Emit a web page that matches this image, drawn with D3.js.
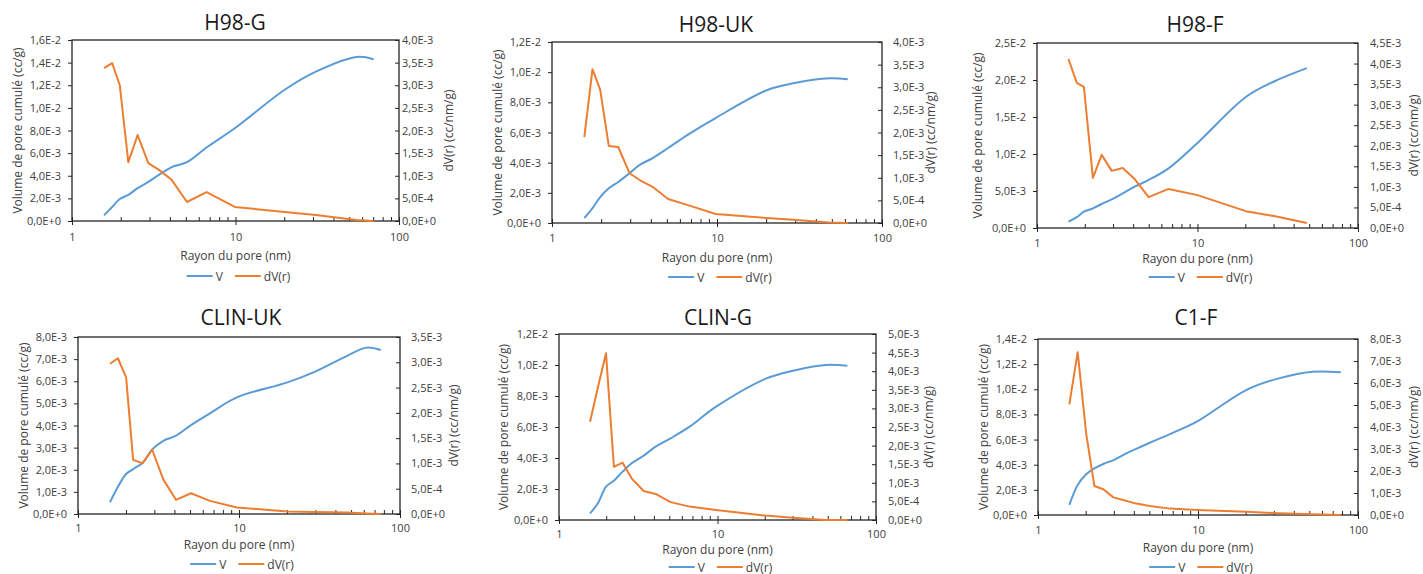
<!DOCTYPE html>
<html><head><meta charset="utf-8">
<script src="https://cdn.jsdelivr.net/npm/d3@7"></script>
<style>body{margin:0;background:#fff;} svg{display:block;}</style>
</head><body>
<svg id="c" width="1423" height="574"></svg>
<script>
// ---------- DATA ----------
const titles = ["H98-G", "H98-UK", "H98-F", "CLIN-UK", "CLIN-G", "C1-F"];
const seriesNames = ["V", "dV(r)"];
const leftTitle = "Volume de pore cumulé (cc/g)";
const rightTitle = "dV(r) (cc/nm/g)";
const xTitle = "Rayon du pore (nm)";
const xTickValues = [1, 10, 100];
const xTickLabels = ["1", "10", "100"];

const r_H98G  = [1.57, 1.76, 1.96, 2.21, 2.52, 2.93, 3.4, 4.07, 5.05, 6.65, 9.9, 20, 31, 55, 70];
const V_H98G  = [0.50e-3, 1.24e-3, 1.94e-3, 2.30e-3, 2.90e-3, 3.45e-3, 4.07e-3, 4.77e-3, 5.20e-3, 6.50e-3, 8.20e-3, 11.6e-3, 13.2e-3, 14.5e-3, 14.3e-3];
const dV_H98G = [3.38e-3, 3.49e-3, 3.00e-3, 1.30e-3, 1.90e-3, 1.28e-3, 1.13e-3, 0.91e-3, 0.42e-3, 0.64e-3, 0.31e-3, 0.20e-3, 0.13e-3, 0.02e-3, 0.0];

const r_H98UK  = [1.57, 1.76, 1.96, 2.21, 2.52, 2.95, 3.4, 4.07, 5.05, 6.6, 9.8, 20, 29, 48, 62];
const V_H98UK  = [0.33e-3, 0.99e-3, 1.72e-3, 2.30e-3, 2.72e-3, 3.30e-3, 3.85e-3, 4.30e-3, 4.97e-3, 5.83e-3, 6.96e-3, 8.80e-3, 9.26e-3, 9.59e-3, 9.53e-3];
const dV_H98UK = [1.90e-3, 3.40e-3, 2.94e-3, 1.70e-3, 1.68e-3, 1.10e-3, 0.95e-3, 0.80e-3, 0.53e-3, 0.40e-3, 0.20e-3, 0.11e-3, 0.07e-3, 0.01e-3, 0.0];

const r_H98F  = [1.57, 1.77, 1.96, 2.23, 2.53, 2.92, 3.42, 4.06, 4.96, 6.6, 10, 20, 30, 48];
const V_H98F  = [0.85e-3, 1.47e-3, 2.20e-3, 2.66e-3, 3.24e-3, 3.87e-3, 4.68e-3, 5.58e-3, 6.49e-3, 8.06e-3, 11.5e-3, 17.7e-3, 19.8e-3, 21.6e-3];
const dV_H98F = [4.11e-3, 3.53e-3, 3.43e-3, 1.22e-3, 1.78e-3, 1.39e-3, 1.46e-3, 1.19e-3, 0.75e-3, 0.95e-3, 0.80e-3, 0.41e-3, 0.29e-3, 0.12e-3];

const r_CLINUK  = [1.58, 1.77, 1.99, 2.2, 2.52, 2.89, 3.39, 4.06, 5.03, 6.6, 9.7, 20, 29, 47, 62, 76];
const V_CLINUK  = [0.53e-3, 1.23e-3, 1.81e-3, 2.03e-3, 2.32e-3, 2.92e-3, 3.31e-3, 3.54e-3, 4.02e-3, 4.55e-3, 5.27e-3, 5.95e-3, 6.40e-3, 7.15e-3, 7.52e-3, 7.41e-3];
const dV_CLINUK = [2.97e-3, 3.08e-3, 2.70e-3, 1.07e-3, 1.00e-3, 1.27e-3, 0.68e-3, 0.28e-3, 0.41e-3, 0.26e-3, 0.13e-3, 0.05e-3, 0.04e-3, 0.03e-3, 0.01e-3, 0.0];

const r_CLING  = [1.57, 1.76, 1.98, 2.22, 2.52, 2.87, 3.42, 4.07, 5.06, 6.67, 9.8, 20, 30, 48, 66];
const V_CLING  = [0.43e-3, 1.08e-3, 2.15e-3, 2.54e-3, 3.12e-3, 3.66e-3, 4.15e-3, 4.73e-3, 5.27e-3, 6.02e-3, 7.31e-3, 9.10e-3, 9.63e-3, 10.0e-3, 9.95e-3];
const dV_CLING = [2.64e-3, 3.57e-3, 4.48e-3, 1.43e-3, 1.54e-3, 1.12e-3, 0.78e-3, 0.70e-3, 0.48e-3, 0.36e-3, 0.27e-3, 0.12e-3, 0.06e-3, 0.0, 0.0];

const r_C1F  = [1.57, 1.77, 2.0, 2.25, 2.56, 2.96, 3.4, 4.04, 5.0, 6.68, 9.9, 20, 32, 52, 78];
const V_C1F  = [0.80e-3, 2.39e-3, 3.24e-3, 3.71e-3, 4.06e-3, 4.37e-3, 4.77e-3, 5.22e-3, 5.75e-3, 6.44e-3, 7.45e-3, 9.94e-3, 10.87e-3, 11.4e-3, 11.35e-3];
const dV_C1F = [5.03e-3, 7.40e-3, 3.71e-3, 1.32e-3, 1.17e-3, 0.80e-3, 0.68e-3, 0.53e-3, 0.41e-3, 0.29e-3, 0.23e-3, 0.15e-3, 0.08e-3, 0.03e-3, 0.0];

const leftMax   = [0.016, 0.012, 0.025, 0.008, 0.012, 0.014];
const leftStep  = [0.002, 0.002, 0.005, 0.001, 0.002, 0.002];
const rightMax  = [0.004, 0.004, 0.0045, 0.0035, 0.005, 0.008];
const rightStep = [0.0005, 0.0005, 0.0005, 0.0005, 0.0005, 0.001];

const radii = [r_H98G, r_H98UK, r_H98F, r_CLINUK, r_CLING, r_C1F];
const vols  = [V_H98G, V_H98UK, V_H98F, V_CLINUK, V_CLING, V_C1F];
const dvols = [dV_H98G, dV_H98UK, dV_H98F, dV_CLINUK, dV_CLING, dV_C1F];

// ---------- LAYOUT ----------
const layout = [
  {L:72,   T:40,  R:399,  B:221, tx:235,  ty:30,  lt:17,  rt:448,  rg:3,  tkY:16, xtY:34, lgY:55},
  {L:552,  T:42,  R:882,  B:223, tx:716,  ty:31.5,lt:497, rt:930,  rg:11, tkY:15, xtY:34, lgY:54},
  {L:1037, T:43,  R:1358, B:228, tx:1195, ty:32,  lt:977, rt:1413, rg:12, tkY:15, xtY:30, lgY:49},
  {L:78,   T:337, R:400,  B:514, tx:241,  ty:325, lt:23,  rt:453,  rg:11, tkY:14, xtY:30, lgY:50},
  {L:559,  T:334, R:876,  B:520, tx:718,  ty:325, lt:503, rt:928,  rg:12, tkY:14, xtY:29, lgY:47},
  {L:1038, T:339, R:1358, B:515, tx:1196, ty:325, lt:983, rt:1413, rg:12, tkY:15, xtY:32, lgY:52}
];

const FONT = "'Open Sans', Lato, sans-serif";
const BLUE = "#5B9BD5", ORANGE = "#ED7D31";
const TXT = "#404040";

function fmt(v) {
  v = +(+v).toPrecision(8);
  if (v === 0) return "0,0E+0";
  let e = Math.floor(Math.log10(v) + 1e-9);
  let m = v / Math.pow(10, e);
  let s = m.toFixed(1);
  if (s === "10.0") { e += 1; s = "1.0"; }
  return s.replace(".", ",") + "E" + (e >= 0 ? "+" + e : e);
}

const svg = d3.select("#c").style("font-family", FONT);

layout.forEach((lay, i) => {
  const g = svg.append("g");
  const x = d3.scaleLog().domain([1, 100]).range([lay.L, lay.R]);
  const yL = d3.scaleLinear().domain([0, leftMax[i]]).range([lay.B, lay.T]);
  const yR = d3.scaleLinear().domain([0, rightMax[i]]).range([lay.B, lay.T]);
  const lt = d3.range(0, leftMax[i] + leftStep[i] / 2, leftStep[i]).map(v => +v.toFixed(10));
  const rtk = d3.range(0, rightMax[i] + rightStep[i] / 2, rightStep[i]).map(v => +v.toFixed(10));

  // title
  g.append("text").attr("x", lay.tx).attr("y", lay.ty).attr("text-anchor", "middle")
    .attr("font-size", 21).attr("fill", "#1a1a1a").text(titles[i]);

  // left axis
  const ga = g.append("g").attr("transform", `translate(${lay.L},0)`)
    .call(d3.axisLeft(yL).tickValues(lt).tickFormat(fmt).tickSizeInner(4).tickSizeOuter(0).tickPadding(7));
  // right axis
  const gb = g.append("g").attr("transform", `translate(${lay.R},0)`)
    .call(d3.axisRight(yR).tickValues(rtk).tickFormat(fmt).tickSizeInner(-4).tickSizeOuter(0).tickPadding(lay.rg));
  // bottom axis
  const gc = g.append("g").attr("transform", `translate(0,${lay.B})`)
    .call(d3.axisBottom(x).tickValues(xTickValues).tickFormat((d, k) => xTickLabels[k]).tickSizeInner(4).tickSizeOuter(0));
  gc.selectAll(".tick line").attr("y1", -4).attr("y2", 4);
  gc.selectAll(".tick text").attr("y", lay.tkY).attr("dy", "0.35em");
  // minor log ticks
  const minor = [];
  [1, 10].forEach(dec => { for (let k = 2; k <= 9; k++) minor.push(dec * k); });
  gc.selectAll(".minor").data(minor).enter().append("line")
    .attr("x1", d => x(d)).attr("x2", d => x(d)).attr("y1", 0).attr("y2", -4)
    .attr("stroke", "#262626").attr("stroke-width", 1);

  [ga, gb, gc].forEach(a => {
    a.select(".domain").remove();
    a.selectAll(".tick line").attr("stroke", "#262626").attr("stroke-width", 1);
    a.selectAll(".tick text").attr("font-size", 11).attr("fill", TXT).style("font-family", FONT);
  });

  // frame
  g.append("rect").attr("x", lay.L).attr("y", lay.T).attr("width", lay.R - lay.L).attr("height", lay.B - lay.T)
    .attr("fill", "none").attr("stroke", "#262626").attr("stroke-width", 1.3);

  // axis titles
  g.append("text").attr("transform", `translate(${lay.lt},${(lay.T + lay.B) / 2}) rotate(-90)`)
    .attr("text-anchor", "middle").attr("dominant-baseline", "central")
    .attr("font-size", 12).attr("fill", TXT).text(leftTitle);
  g.append("text").attr("transform", `translate(${lay.rt},${(lay.T + lay.B) / 2}) rotate(-90)`)
    .attr("text-anchor", "middle").attr("dominant-baseline", "central")
    .attr("font-size", 12).attr("fill", TXT).text(rightTitle);
  g.append("text").attr("x", (lay.L + lay.R) / 2).attr("y", lay.B + lay.xtY)
    .attr("text-anchor", "middle").attr("dominant-baseline", "central")
    .attr("font-size", 12).attr("fill", TXT).text(xTitle);

  // series
  const rr = radii[i];
  const vData = rr.map((r, k) => [r, vols[i][k]]);
  const dData = rr.map((r, k) => [r, dvols[i][k]]);
  g.append("path").datum(vData)
    .attr("d", d3.line().x(d => x(d[0])).y(d => yL(d[1])).curve(d3.curveCatmullRom.alpha(0.5)))
    .attr("fill", "none").attr("stroke", BLUE).attr("stroke-width", 2);
  g.append("path").datum(dData)
    .attr("d", d3.line().x(d => x(d[0])).y(d => yR(d[1])))
    .attr("fill", "none").attr("stroke", ORANGE).attr("stroke-width", 2).attr("stroke-linejoin", "round");

  // legend
  const lg = g.append("g");
  const ly = lay.B + lay.lgY;
  const lineLen = 26, gap = 3, itemGap = 12;
  let cx = 0;
  [BLUE, ORANGE].forEach((col, k) => {
    lg.append("line").attr("x1", cx).attr("x2", cx + lineLen).attr("y1", 0).attr("y2", 0)
      .attr("stroke", col).attr("stroke-width", 2);
    cx += lineLen + gap;
    const t = lg.append("text").attr("x", cx).attr("y", 0).attr("dominant-baseline", "central")
      .attr("font-size", 12).attr("fill", TXT).text(seriesNames[k]);
    cx += t.node().getComputedTextLength() + (k === 0 ? itemGap : 0);
  });
  lg.attr("transform", `translate(${(lay.L + lay.R) / 2 + 3 - cx / 2},${ly})`);
});
</script>
</body></html>
